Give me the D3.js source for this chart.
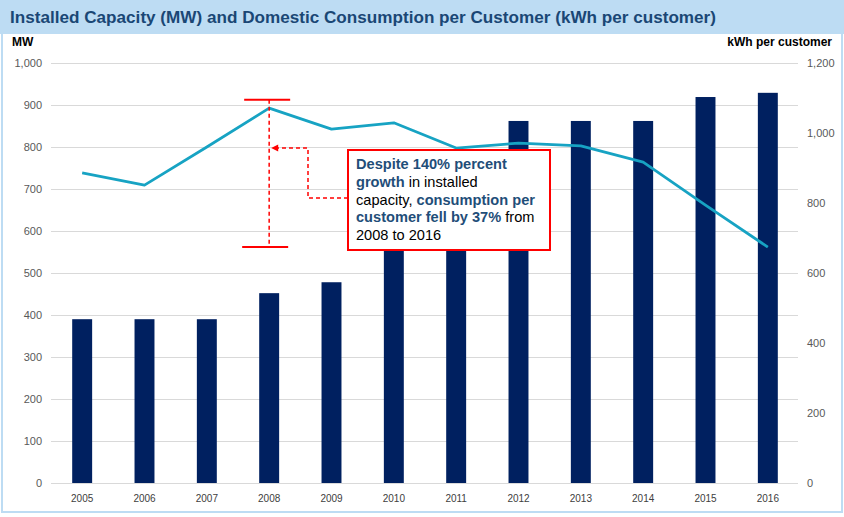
<!DOCTYPE html>
<html>
<head>
<meta charset="utf-8">
<script src="https://cdn.jsdelivr.net/npm/d3@7"></script>
<style>
  body { margin: 0; background: #fff; }
  svg { display: block; font-family: "Liberation Sans", Arial, sans-serif; }
</style>
</head>
<body>
<svg id="chart" width="844" height="517"></svg>
<script>
// data
var years = ["2005", "2006", "2007", "2008", "2009", "2010", "2011", "2012", "2013", "2014", "2015", "2016"];
var capacityMW = [390, 390, 390, 452, 478, 600, 620, 862, 862, 862, 919, 929];
var kwhPerCustomer = [886, 851, 960, 1071, 1011, 1029, 957, 971, 963, 917, 794, 674];
var leftTicks = [0, 100, 200, 300, 400, 500, 600, 700, 800, 900, 1000];
var rightTicks = [0, 200, 400, 600, 800, 1000, 1200];

var svg = d3.select("#chart");
var fmt = d3.format(",");

// title band and frame
svg.append("rect").attr("x", 0).attr("y", 0).attr("width", 844).attr("height", 34)
    .attr("fill", "#bddcf3");
svg.append("text").attr("x", 10).attr("y", 23)
    .attr("font-size", 17).attr("font-weight", "bold").attr("fill", "#1a4775")
    .attr("textLength", 706).attr("lengthAdjust", "spacingAndGlyphs")
    .text("Installed Capacity (MW) and Domestic Consumption per Customer (kWh per customer)");
svg.append("path")
    .attr("d", "M2,34 V512 H842 V34")
    .attr("fill", "none").attr("stroke", "#bddcf3").attr("stroke-width", 2);

var x = d3.scaleBand().domain(years).range([51, 799]).paddingInner(0.68).paddingOuter(0.34);
var yL = d3.scaleLinear().domain([0, 1000]).range([483, 63]);
var yR = d3.scaleLinear().domain([0, 1200]).range([483, 63]);

// gridlines
svg.append("g").selectAll("line").data(leftTicks).enter().append("line")
    .attr("x1", 51).attr("x2", 798)
    .attr("y1", d => yL(d) + 0.5).attr("y2", d => yL(d) + 0.5)
    .attr("stroke", "#d9d9d9").attr("stroke-width", 1);

// axes
var leftAxis = svg.append("g").attr("transform", "translate(42,0)")
    .call(d3.axisLeft(yL).tickValues(leftTicks).tickFormat(fmt).tickSize(0).tickPadding(0));
var rightAxis = svg.append("g").attr("transform", "translate(807,0)")
    .call(d3.axisRight(yR).tickValues(rightTicks).tickFormat(fmt).tickSize(0).tickPadding(0));
var bottomAxis = svg.append("g").attr("transform", "translate(0,490)")
    .call(d3.axisBottom(x).tickSize(0).tickPadding(5));
[leftAxis, rightAxis, bottomAxis].forEach(function (g) {
    g.select(".domain").remove();
    g.selectAll("text").attr("fill", "#595959").attr("font-size", 11)
        .attr("font-family", "'Liberation Sans', Arial, sans-serif");
});
bottomAxis.selectAll("text").attr("font-size", 10).attr("fill", "#404040");

svg.append("text").attr("x", 12).attr("y", 46).attr("font-size", 12)
    .attr("font-weight", "bold").text("MW");
svg.append("text").attr("x", 832).attr("y", 46).attr("font-size", 12)
    .attr("font-weight", "bold").attr("text-anchor", "end").text("kWh per customer");

// bars
svg.append("g").selectAll("rect").data(years).enter().append("rect")
    .attr("x", d => x(d))
    .attr("width", x.bandwidth())
    .attr("y", (d, i) => yL(capacityMW[i]))
    .attr("height", (d, i) => yL(0) - yL(capacityMW[i]))
    .attr("fill", "#002060");

// consumption line
var line = d3.line()
    .x((d, i) => x(years[i]) + x.bandwidth() / 2)
    .y(d => yR(d));
svg.append("path").datum(kwhPerCustomer)
    .attr("d", line)
    .attr("fill", "none").attr("stroke", "#17a3c3").attr("stroke-width", 2.75)
    .attr("stroke-linejoin", "round");

// annotation: range marker at 2008
var red = "#ff0000";
var ax = x("2008") + x.bandwidth() / 2;
var topY = yR(1095);
var botY = yR(kwhPerCustomer[11]);
var ann = svg.append("g");
ann.append("line").attr("x1", ax).attr("x2", ax).attr("y1", topY).attr("y2", botY)
    .attr("stroke", red).attr("stroke-width", 1.5).attr("stroke-dasharray", "4,3");
ann.append("line").attr("x1", ax - 25).attr("x2", ax + 21).attr("y1", topY).attr("y2", topY)
    .attr("stroke", red).attr("stroke-width", 2);
ann.append("line").attr("x1", ax - 27).attr("x2", ax + 19).attr("y1", botY).attr("y2", botY)
    .attr("stroke", red).attr("stroke-width", 2);

// dashed elbow arrow from box
ann.append("path")
    .attr("d", "M348,198 H308 V148 H" + (ax + 8))
    .attr("fill", "none").attr("stroke", red).attr("stroke-width", 1.5)
    .attr("stroke-dasharray", "4,3");
ann.append("path")
    .attr("d", "M" + (ax + 2) + ",148 l7,-3.5 v7 z")
    .attr("fill", red);

// text box
ann.append("rect").attr("x", 348).attr("y", 150).attr("width", 202).attr("height", 100)
    .attr("fill", "#fff").attr("stroke", red).attr("stroke-width", 2);
var blue = "#1f4e79";
var lines = [
    [["Despite 140% percent", true]],
    [["growth", true], [" in installed", false]],
    [["capacity, ", false], ["consumption per", true]],
    [["customer fell by 37%", true], [" from", false]],
    [["2008 to 2016", false]]
];
lines.forEach(function (parts, i) {
    var t = ann.append("text").attr("x", 356).attr("y", 169 + i * 17.8).attr("font-size", 14.6);
    parts.forEach(function (p) {
        t.append("tspan").text(p[0])
            .attr("font-weight", p[1] ? "bold" : "normal")
            .attr("fill", p[1] ? blue : "#000");
    });
});
</script>
</body>
</html>
